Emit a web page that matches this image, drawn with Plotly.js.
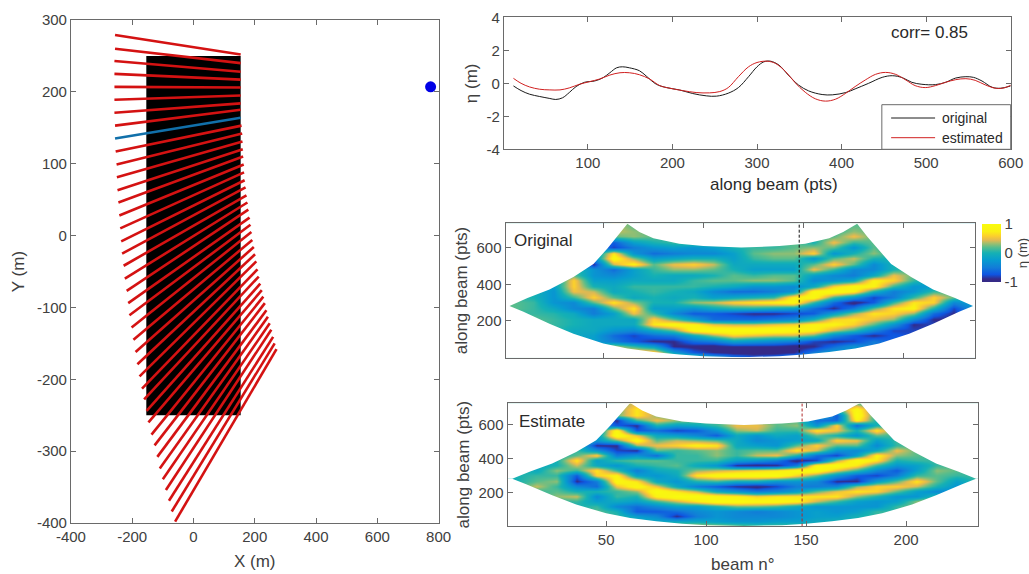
<!DOCTYPE html>
<html><head><meta charset="utf-8">
<script src="https://cdn.plot.ly/plotly-3.0.1.min.js"></script>
<style>html,body{margin:0;padding:0;background:#fff}#c{width:1029px;height:574px}</style>
</head><body><div id="c"></div>
<script>
// Left panel: beam footprints (m)
const beamX0=[-256,-256,-258,-258,-258,-258,-258,-256,-256,-254,-251,-250,-248,-245,-242,-239,-236,-233,-228,-224,-218,-213,-209,-202,-196,-189,-183,-176,-168,-161,-153,-147,-137,-127,-118,-110,-100,-90,-80,-71,-60];
const beamY0=[279,260,243,225,207,189,171,153,135,117,99,81,63,46,28,10,-8,-25,-42,-60,-77,-94,-111,-128,-145,-162,-179,-196,-213,-228,-244,-260,-277,-292,-308,-324,-339,-354,-369,-384,-398];
const beamX1=[154,154,154,154,154,154,154,154,154,157,159,160,161,162,164,165,167,170,173,176,179,183,186,189,192,197,201,205,209,213,218,223,228,233,238,243,249,254,260,265,271];
const beamY1=[252,240,228,217,206,195,184,175,164,153,142,131,120,110,99,88,77,67,56,46,36,25,15,5,-6,-16,-26,-36,-47,-57,-67,-76,-85,-94,-104,-113,-122,-131,-141,-150,-158];
const blueBeamIndex=8;
const rectX=[-154,154,154,-154,-154], rectY=[-250,-250,250,250,-250];
const sourceX=[774], sourceY=[207];

// Top right: surface elevation along beam
const origX=[12,21,31,43,55,62,70,78,86,96,108,118,126,134,141,149,161,169,181,193,208,224,240,252,266,278,290,300,308,316,326,337,349,361,377,389,405,416,432,448,460,472,483,495,511,523,535,547,556,566,578,588,600];
const origY=[-.16,-.44,-.66,-.8,-.92,-.98,-.88,-.56,-.2,.06,.14,.34,.64,.94,1,.94,.76,.44,-.06,-.26,-.4,-.62,-.76,-.78,-.6,-.26,.4,1,1.3,1.34,1.1,.5,-.1,-.46,-.68,-.7,-.56,-.34,0,.36,.46,.34,.06,-.06,-.08,.06,.32,.4,.36,.14,-.24,-.3,-.16];
const estX=[12,21,31,43,55,67,78,90,102,114,126,138,149,161,173,185,197,212,228,244,256,266,278,290,300,312,322,334,345,357,369,381,393,405,416,428,440,452,464,476,487,499,511,523,535,547,558,570,582,592,600];
const estY=[.3,0,-.22,-.36,-.4,-.4,-.28,-.06,.1,.26,.5,.64,.64,.52,.26,-.14,-.3,-.44,-.56,-.58,-.5,-.26,.4,1,1.26,1.34,1.2,.7,.04,-.54,-.94,-1.08,-.96,-.6,-.2,.2,.54,.66,.54,.2,-.14,-.26,-.14,.06,.22,.28,.18,-.1,-.3,-.28,-.12];

// Fan outline in (beam, along-beam) space
const fanBeam=[-5,3,10,23,35,50,62,75,88,100,119,138,150,163,176,188,203,215,228,235,245];
const fanLower=[282,282,250,185,130,78,50,31,17,8,3,8,17,31,50,78,130,185,250,282,282];
const upperBeam=[-5,3,12,23,35,45,52,57,62,68,75,88,100,119,138,151,163,170,177,182,187,194,204,215,226,235,245];
const upperPts=[282,282,325,372,440,510,595,660,730,685,650,620,608,600,608,620,650,685,730,660,595,510,440,372,325,282,282];

// Heat maps: one list per beam (beamAxis), values along beam rows (rowAxis)
const beamAxis=[5,15,25,35,45,55,65,75,85,95,105,115,125,135,145,155,165,175,185,195,205,215,225,235];
const rowAxis=[0,30,60,90,120,150,180,210,240,270,300,330,360,390,420,450,480,510,540,570,600,630,660,690,720];
const originalZ=[
[.1,.1,.1,.1,.1,.1,.1,.1,.1,.2,.2,.1,.1,.1,.1,.1,.1,.1,.1,.1,.1,.1,.1,.1,.1],
[.2,.2,.2,.2,.2,.2,.2,.2,.1,.1,.1,0,0,0,0,0,0,0,0,0,0,0,0,0,0],
[.1,.1,.1,.1,.1,.1,.1,.1,.05,-.1,-.3,-.3,-.3,-.2,-.2,-.2,-.2,-.2,-.2,-.2,-.2,-.2,-.2,-.2,-.2],
[-.1,-.1,-.1,-.1,-.1,-.1,0,0,-.1,-.4,-.4,.1,.5,.6,.6,.2,.1,.1,.1,.1,.1,.1,.1,.1,.1],
[-.2,-.2,-.2,-.2,-.2,-.1,-.1,-.1,-.5,-.5,.2,.6,.4,0,-.2,-.3,-.3,-.9,-.4,-.4,-.4,-.4,-.4,-.4,-.4],
[.4,.4,.4,-.5,-.6,-.3,-.1,-.1,-.2,.2,.7,.2,-.1,-.1,-.2,-.4,-.6,.4,.9,.7,-.8,-.7,.2,.4,.4],
[.7,.7,.1,-.7,-.8,-.4,-.1,-.1,.5,.7,.3,-.1,0,.1,-.1,-.2,-.2,.8,.3,-.3,-.5,-.2,.3,.3,.2],
[.5,.7,-.2,-.9,-.6,-.1,.7,.6,.1,-.2,0,0,.1,.1,-.1,0,.1,.2,-.2,-.6,-.3,0,.2,.2,.2],
[.6,-.2,-.9,-.9,-.5,.2,.9,.2,-.4,-.2,0,-.1,0,.1,-.1,-.1,.3,.5,-.1,-.5,-.2,.1,.1,.1,.1],
[.3,-.7,-.95,-.6,-.1,.9,.8,-.2,-.7,-.3,.3,0,-.1,.1,.1,-.1,.3,.6,0,-.4,-.3,.2,.2,.2,.2],
[-.2,-.9,-1,-.5,.3,1,.5,-.6,-.7,-.1,.4,-.2,-.4,0,.2,0,.2,.4,0,-.4,-.2,.1,.1,.1,.1],
[-.5,-1,-.9,-.2,.6,1,.4,-.6,-.8,0,.6,-.1,-.6,-.1,.2,.2,0,-.1,-.2,-.2,0,.1,.1,.1,.1],
[-.7,-1,-.9,-.3,.5,1,.4,-.6,-.9,0,.7,0,-.6,-.3,.3,.1,-.2,-.1,.1,.2,.1,.1,.1,.1,.1],
[-.6,-1,-.9,-.4,.4,1,.5,-.5,-.9,-.1,.8,.1,-.5,-.3,.3,.2,-.2,-.1,.2,.3,.1,.1,.1,.1,.1],
[-.4,-.9,-1,-.5,.4,.9,.6,-.4,-.8,-.2,.9,.8,-.3,-.4,.2,.2,-.2,-.1,.2,.3,.2,.2,.2,.2,.2],
[0,-.5,-.9,-.8,.2,.8,.8,0,-.7,-.6,.1,.9,.9,-.1,-.4,-.2,.5,.2,-.3,.6,.3,0,.1,.1,.1],
[-.2,-.2,-.6,-.9,-.4,.4,.8,.6,-.2,-.9,-.6,.1,1,.6,-.3,-.4,.1,.6,.2,-.3,.2,.5,.2,.1,.1],
[-.3,-.3,-.3,-.8,-.7,.1,.6,.7,.3,-.5,-1,-.3,.8,.9,-.1,-.5,-.4,.2,.4,0,-.3,.1,.5,.3,.2],
[-.5,-.5,-.5,-.5,-.9,-.4,.2,.5,.7,.2,-.7,-.8,0,.8,.8,-.1,-.4,-.4,0,.3,.2,.2,.2,.2,.2],
[-.7,-.7,-.7,-.7,-.7,-.8,-.3,.3,.6,.7,.1,-.5,-.5,.1,.6,.5,0,0,0,0,0,0,0,0,0],
[-.8,-.8,-.8,-.8,-.8,-.8,-.9,-.4,.3,.8,.7,.1,-.3,-.3,.1,.2,.2,.2,.2,.2,.2,.2,.2,.2,.2],
[-.8,-.8,-.8,-.8,-.8,-.8,-.8,-.9,-.6,0,.6,.6,.1,-.2,-.2,-.2,-.2,-.2,-.2,-.2,-.2,-.2,-.2,-.2,-.2],
[-.9,-.9,-.9,-.9,-.9,-.9,-.9,-.9,-.9,-.8,-.4,.2,.2,.2,.2,.2,.2,.2,.2,.2,.2,.2,.2,.2,.2],
[-.3,-.3,-.3,-.3,-.3,-.3,-.3,-.3,-.3,-.3,-.2,-.2,-.2,-.2,-.2,-.2,-.2,-.2,-.2,-.2,-.2,-.2,-.2,-.2,-.2]
];
const estimateZ=[
[.1,.1,.1,.1,.1,.1,.1,.1,.1,0,0,.1,.1,.1,.1,.1,.1,.1,.1,.1,.1,.1,.1,.1,.1],
[.1,.1,.1,.1,.1,.1,.1,.1,.4,.2,.1,-.1,-.1,-.1,-.1,-.1,-.1,-.1,-.1,-.1,-.1,-.1,-.1,-.1,-.1],
[.1,.1,.1,.1,.1,.1,.3,.2,.1,.3,.1,.3,0,0,0,0,0,0,0,0,0,0,0,0,0],
[.1,.1,.1,.1,0,.1,.4,0,-.4,-.9,-.7,.1,.4,.7,.2,.1,.1,.1,.1,.1,.1,.1,.1,.1,.1],
[.1,.1,.1,.2,.1,-.2,-.4,0,-.6,-.5,.6,.7,-.1,-.2,.6,-.3,-.9,-.3,-.3,-.3,-.3,-.3,-.3,-.3,-.3],
[.4,.4,.1,0,-.4,-.1,.1,.1,.5,.9,.8,.1,-.3,.1,-.5,-.8,-.9,.2,1,.9,-.7,-.9,.2,.2,.2],
[.3,0,-.2,-.7,-.6,-.2,0,.3,.9,.7,-.2,-.5,0,.2,-.3,-.9,.3,.9,.5,-.7,-.9,.1,.7,.7,.5],
[.3,-.1,-.4,-.7,-.4,.1,.8,1,.5,-.1,-.3,-.1,.1,.2,-.6,.2,.5,.2,-.1,-.6,0,.5,.3,.3,.3],
[.4,-.1,-.9,-.6,-.2,.4,1,.7,-.1,-.3,-.1,0,.2,.1,.1,.1,.6,.4,-.2,-.8,-.2,.3,.2,.2,.2],
[.5,-.1,-.5,-.4,-.2,.7,1,.4,-.5,0,.7,.3,-.1,.1,.1,.2,.8,.3,-.4,-.7,-.1,.2,.2,.2,.2],
[.4,-.2,-.3,-.3,0,1,.9,-.1,-.7,.1,.9,.4,-.3,.1,.3,.3,.7,.2,-.7,-.3,.1,.2,.2,.2,.2],
[.3,-.3,-.4,-.4,.2,1,.8,-.3,-.9,-.1,1,.5,-.9,-.2,.1,.1,-.1,-.1,-.1,.3,.5,.2,.2,.2,.2],
[.2,-.3,-.4,-.5,.2,.9,.6,-.5,-1,-.1,1,.6,-1,-.3,.4,.2,-.2,-.4,-.3,.4,.5,.2,.2,.2,.2],
[.2,-.2,-.4,-.4,.1,.9,.7,-.4,-.8,-.3,1,.7,-.9,-.5,.5,.2,-.3,-.3,-.1,.1,.2,.2,.2,.2,.2],
[.2,-.2,-.3,-.3,-.1,.8,.7,-.2,-.5,-.3,.6,1,-.5,-1,0,.7,.2,-.2,-.2,.1,.3,.2,.2,.2,.2],
[.1,-.1,-.2,-.2,-.3,.4,.7,.2,-.5,-.4,.2,1,.9,-.8,-.6,.4,.6,-.1,.2,.7,-.3,-.6,.1,.1,.1],
[0,0,-.2,-.3,-.3,.1,.7,.5,-.4,-.9,-.3,.5,1,.3,-.8,-.3,.2,.6,0,.5,.6,-.6,-.7,.1,.1],
[0,0,0,-.2,-.3,-.2,.3,.7,.3,-.9,-.7,.1,.7,1,-.2,-.4,.2,.5,-.3,0,-.6,.8,1,.9,.3],
[.1,.1,.1,.1,-.3,-.3,0,.6,.6,-.2,-.8,-.4,.1,.7,.8,-.1,-.4,-.2,.2,.7,0,0,0,0,0],
[.1,.1,.1,.1,.1,-.2,-.3,.2,.6,.2,-.5,-.7,-.3,0,.3,.5,.1,.1,.1,.1,.1,.1,.1,.1,.1],
[.3,.3,.3,.3,.3,.3,-.3,-.2,.4,.7,.1,-.2,-.2,.1,.2,.2,.2,.2,.2,.2,.2,.2,.2,.2,.2],
[.6,.6,.6,.6,.6,.6,.1,-.4,0,.2,.2,.3,.1,.1,.1,.1,.1,.1,.1,.1,.1,.1,.1,.1,.1],
[-.3,-.3,-.3,-.3,-.3,-.3,-.3,-.3,-.3,-.2,.1,.2,.2,.2,.2,.2,.2,.2,.2,.2,.2,.2,.2,.2,.2],
[.1,.1,.1,.1,.1,.1,.1,.1,.1,.1,.1,.1,.1,.1,.1,.1,.1,.1,.1,.1,.1,.1,.1,.1,.1]
];
const sectionBeam=[148,148], sectionPts=[0,740];

const parula=[[0,'rgb(53,42,135)'],[.05,'rgb(53,42,135)'],[.13,'rgb(15,85,225)'],[.25,'rgb(18,125,216)'],[.38,'rgb(7,156,207)'],[.5,'rgb(21,177,180)'],[.6,'rgb(89,189,140)'],[.67,'rgb(165,190,107)'],[.72,'rgb(225,185,82)'],[.79,'rgb(252,206,46)'],[.87,'rgb(250,240,20)'],[1,'rgb(249,251,14)']];

const W=1029,H=574;
const dx=(a,b)=>[a/W,b/W], dy=(t,b)=>[1-b/H,1-t/H];
const FONT='"Liberation Sans", Arial, sans-serif', TXT='#404040', AX='#6a6a6a';
const base=(extra)=>Object.assign({showline:true,linecolor:AX,linewidth:1,mirror:'ticks',ticks:'inside',ticklen:5,tickcolor:AX,showgrid:false,zeroline:false,tickfont:{family:FONT,size:15,color:TXT},fixedrange:true},extra);
const lab=v=>v.map(String);

// Build beam polylines from the arrays
const redX=[],redY=[];
beamX0.forEach((x,i)=>{ if(i!==blueBeamIndex){redX.push(x,beamX1[i],null);redY.push(beamY0[i],beamY1[i],null);} });

const maskUpperX=upperBeam.concat([245,-5]), maskUpperY=upperPts.concat([800,800]);
const maskLowerX=fanBeam.concat([245,-5]), maskLowerY=fanLower.concat([-60,-60]);

const heat=(z,xa,ya,scale)=>({type:'heatmap',x:beamAxis,y:rowAxis,z:z,transpose:true,zsmooth:'best',zmin:-1,zmax:1,colorscale:parula,xaxis:xa,yaxis:ya,showscale:scale,hoverinfo:'skip',
  colorbar:scale?{x:982/W,xanchor:'left',xpad:0,ypad:0,thickness:19,lenmode:'pixels',len:58,y:1-253/H,yanchor:'middle',outlinewidth:0,ticks:'',tickvals:[-1,0,1],ticktext:['-1','0','1'],ticklen:0,tickfont:{family:FONT,size:15,color:TXT},title:{text:'η (m)',side:'right',font:{family:FONT,size:13,color:TXT}}}:undefined});
const mask=(x,y,xa,ya)=>({type:'scatter',mode:'lines',x:x,y:y,fill:'toself',fillcolor:'#fff',line:{width:0,color:'#fff'},xaxis:xa,yaxis:ya,showlegend:false,hoverinfo:'skip'});

const traces=[
 {type:'scatter',mode:'lines',x:rectX,y:rectY,fill:'toself',fillcolor:'#000',line:{width:0,color:'#000'},showlegend:false,xaxis:'x',yaxis:'y'},
 {type:'scatter',mode:'lines',x:redX,y:redY,line:{color:'#d41212',width:2.6},showlegend:false,xaxis:'x',yaxis:'y',connectgaps:false},
 {type:'scatter',mode:'lines',x:[beamX0[blueBeamIndex],beamX1[blueBeamIndex]],y:[beamY0[blueBeamIndex],beamY1[blueBeamIndex]],line:{color:'#1170aa',width:2.6},showlegend:false,xaxis:'x',yaxis:'y'},
 {type:'scatter',mode:'markers',x:sourceX,y:sourceY,marker:{color:'#0000e6',size:11},showlegend:false,xaxis:'x',yaxis:'y',cliponaxis:false},
 {type:'scatter',mode:'lines',name:'original',x:origX,y:origY,line:{color:'#1a1a1a',width:1,shape:'spline'},xaxis:'x2',yaxis:'y2',showlegend:false},
 {type:'scatter',mode:'lines',name:'estimated',x:estX,y:estY,line:{color:'#d02020',width:1,shape:'spline'},xaxis:'x2',yaxis:'y2',showlegend:false},
 heat(originalZ,'x3','y3',true),
 mask(maskUpperX,maskUpperY,'x3','y3'),mask(maskLowerX,maskLowerY,'x3','y3'),
 {type:'scatter',mode:'lines',x:sectionBeam,y:sectionPts,line:{color:'#111',width:1,dash:'3px,2px'},showlegend:false,xaxis:'x3',yaxis:'y3'},
 heat(estimateZ,'x4','y4',false),
 mask(maskUpperX,maskUpperY,'x4','y4'),mask(maskLowerX,maskLowerY,'x4','y4'),
 {type:'scatter',mode:'lines',x:sectionBeam,y:sectionPts,line:{color:'#b02a2a',width:1,dash:'3px,2px'},showlegend:false,xaxis:'x4',yaxis:'y4'}
];

const titleF={family:FONT,size:17,color:TXT};
const px=x=>x/W, py=y=>1-y/H;
const note=(x,y,text,size,anchor)=>({xref:'paper',yref:'paper',x:px(x),y:py(y),text:text,showarrow:false,xanchor:anchor||'center',yanchor:'middle',font:{family:FONT,size:size,color:'#2a2a2a'}});
const layout={
 width:W,height:H,margin:{l:0,r:0,t:0,b:0},paper_bgcolor:'#fff',plot_bgcolor:'#fff',showlegend:false,
 font:{family:FONT,color:TXT},
 xaxis:base({domain:dx(71,439),range:[-400,800],tickvals:[-400,-200,0,200,400,600,800],ticktext:lab([-400,-200,0,200,400,600,800]),title:{text:'X (m)',font:titleF,standoff:11},anchor:'y'}),
 yaxis:base({domain:dy(20,523),range:[-400,300],tickvals:[-400,-300,-200,-100,0,100,200,300],ticktext:lab([-400,-300,-200,-100,0,100,200,300]),title:{text:'Y (m)',font:titleF,standoff:7},anchor:'x'}),
 xaxis2:base({domain:dx(504.3,1011.7),range:[0.6,600],tickvals:[100,200,300,400,500,600],ticktext:lab([100,200,300,400,500,600]),anchor:'y2'}),
 yaxis2:base({domain:dy(17.3,149.3),range:[-4,4],tickvals:[-4,-2,0,2,4],ticktext:lab([-4,-2,0,2,4]),title:{text:'η (m)',font:titleF,standoff:4},anchor:'x2'}),
 xaxis3:base({domain:dx(506,976),range:[1,236],tickvals:[50,100,150,200],showticklabels:false,anchor:'y3'}),
 yaxis3:base({domain:dy(223.3,357.7),range:[0,732],tickvals:[200,400,600],ticktext:lab([200,400,600]),title:{text:'along beam (pts)',font:titleF,standoff:4},anchor:'x3'}),
 xaxis4:base({domain:dx(508,979),range:[0.65,236],tickvals:[50,100,150,200],ticktext:lab([50,100,150,200]),title:{text:'beam n°',font:titleF,standoff:11},anchor:'y4'}),
 yaxis4:base({domain:dy(403.3,526),range:[3,728],tickvals:[200,400,600],ticktext:lab([200,400,600]),title:{text:'along beam (pts)',font:titleF,standoff:4},anchor:'x4'}),
 shapes:[
  {type:'rect',xref:'paper',yref:'paper',x0:px(882.7),x1:px(1011.7),y0:py(149.3),y1:py(104.7),fillcolor:'#fff',line:{color:AX,width:1},layer:'above'},
  {type:'line',xref:'paper',yref:'paper',x0:px(892),x1:px(936),y0:py(118),y1:py(118),line:{color:'#1a1a1a',width:1},layer:'above'},
  {type:'line',xref:'paper',yref:'paper',x0:px(892),x1:px(936),y0:py(137.7),y1:py(137.7),line:{color:'#d02020',width:1},layer:'above'}
 ],
 annotations:[
  note(775,184,'along beam (pts)',17),
  note(930,33,'corr= 0.85',17),
  note(544,240,'Original',17),
  note(553,421.5,'Estimate',17),
  note(941.3,118,'original',14,'left'),
  note(941.3,137.7,'estimated',14,'left')
 ]
};
Plotly.newPlot('c',traces,layout,{displayModeBar:false,staticPlot:true});
</script></body></html>
